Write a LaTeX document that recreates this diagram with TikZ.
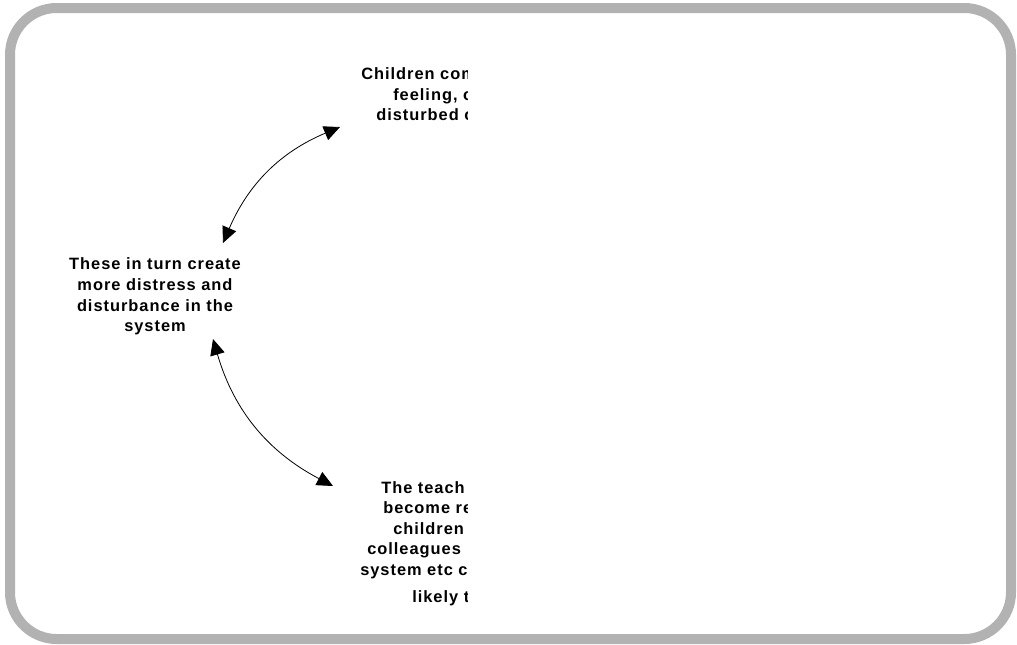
\documentclass[tikz,border=0pt]{standalone}
\usepackage{fontspec}
\setmainfont{Liberation Sans}[LetterSpace=6]
\usetikzlibrary{arrows.meta}
\definecolor{FrameClr}{rgb}{0.70,0.70,0.70}

\begin{document}
\begin{tikzpicture}[x=0.75pt,y=-0.75pt,
  txt/.style={inner sep=0pt,font=\fontsize{12.3}{15.6}\selectfont\bfseries},
  line/.style={txt,anchor=base west},
  link/.style={line width=0.6pt,{Triangle[length=12pt,width=11pt]}-{Triangle[length=12pt,width=11pt]}}]
\useasboundingbox (0,0) rectangle (1017,644);

\draw[FrameClr,line width=7.5pt,rounded corners=35pt] (10,8) rectangle (1011,639);

\node[txt,align=center] (these) at (155,296.5)
  {These in turn create\\more distress and\\disturbance in the\\system};

\begin{scope}
\clip (0,0) rectangle (467,644);
\node[line] (child1) at (361,79) {Children com};
\node[line] (child2) at (393,100) {feeling, o};
\node[line] (child3) at (376,120) {disturbed o};

\node[line] (teach1) at (381,493) {The teach};
\node[line] (teach2) at (383,513) {become re};
\node[line] (teach3) at (393,534) {children};
\node[line] (teach4) at (367,554) {colleagues};
\node[line] (teach5) at (360,575) {system etc c};
\node[line] (teach6) at (412,602) {likely t};
\end{scope}

\coordinate (u1) at (223,243);
\coordinate (u2) at (340,127);
\coordinate (d1) at (213,339);
\coordinate (d2) at (333,486);

\draw[link] (u1) to[bend left=22] (u2);
\draw[link] (d1) to[bend right=23] (d2);

\end{tikzpicture}
\end{document}
